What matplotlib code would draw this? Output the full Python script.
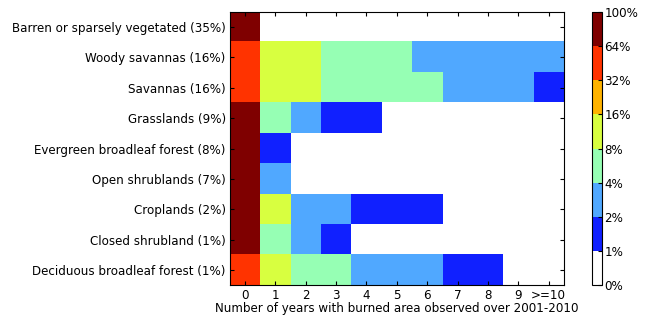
import numpy as np
import matplotlib
matplotlib.use("Agg")
import matplotlib.pyplot as plt
from matplotlib.colors import ListedColormap, BoundaryNorm

land_types = [
    "Barren or sparsely vegetated (35%)",
    "Woody savannas (16%)",
    "Savannas (16%)",
    "Grasslands (9%)",
    "Evergreen broadleaf forest (8%)",
    "Open shrublands (7%)",
    "Croplands (2%)",
    "Closed shrubland (1%)",
    "Deciduous broadleaf forest (1%)",
]
year_labels = ["0", "1", "2", "3", "4", "5", "6", "7", "8", "9", ">=10"]

# percent of area per number of burned years
barren = [99.0, 0.4, 0.2, 0.1, 0.1, 0.05, 0.05, 0.03, 0.02, 0.02, 0.03]
woody_savannas = [42.0, 12.0, 9.5, 7.0, 5.5, 4.5, 3.8, 3.5, 3.2, 3.0, 3.5]
savannas = [40.0, 13.0, 9.0, 7.5, 6.0, 4.8, 4.2, 3.6, 3.0, 2.4, 1.8]
grasslands = [80.0, 5.5, 2.8, 1.6, 1.1, 0.8, 0.6, 0.5, 0.4, 0.3, 0.3]
evergreen = [94.0, 1.5, 0.9, 0.6, 0.4, 0.3, 0.2, 0.2, 0.1, 0.1, 0.1]
open_shrub = [90.0, 3.0, 0.9, 0.5, 0.3, 0.2, 0.2, 0.1, 0.1, 0.1, 0.1]
croplands = [68.0, 10.0, 3.5, 2.5, 1.8, 1.4, 1.1, 0.9, 0.8, 0.6, 0.5]
closed_shrub = [82.0, 6.0, 2.2, 1.3, 0.9, 0.7, 0.5, 0.4, 0.3, 0.2, 0.2]
deciduous = [45.0, 10.0, 6.0, 4.5, 3.8, 3.0, 2.5, 1.8, 1.2, 0.8, 0.6]

data = np.array([barren, woody_savannas, savannas, grasslands, evergreen,
                 open_shrub, croplands, closed_shrub, deciduous])

bounds = [0, 1, 2, 4, 8, 16, 32, 64, 100]
bound_labels = ["0%", "1%", "2%", "4%", "8%", "16%", "32%", "64%", "100%"]
colors = ["#ffffff", "#1020ff", "#50a8ff", "#96ffb4", "#d8ff40",
          "#ffb300", "#ff3300", "#7f0000"]
cmap = ListedColormap(colors)
norm = BoundaryNorm(bounds, cmap.N)

fig = plt.figure(figsize=(6.51, 3.15), dpi=100)
ax = fig.add_axes([0.353, 0.095, 0.513, 0.867])
im = ax.imshow(data, cmap=cmap, norm=norm, aspect="auto", interpolation="nearest")

ax.set_xticks(np.arange(len(year_labels)))
ax.set_xticklabels(year_labels, fontsize=8.6)
ax.set_yticks(np.arange(len(land_types)))
ax.set_yticklabels(land_types, fontsize=8.6)
ax.tick_params(direction="in", top=True, right=True, length=3, pad=3)
ax.set_xlabel("Number of years with burned area observed over 2001-2010",
              fontsize=8.6, labelpad=0)

cax = fig.add_axes([0.909, 0.095, 0.0154, 0.867])
cb = fig.colorbar(im, cax=cax, boundaries=bounds, ticks=bounds, spacing="uniform")
cb.ax.set_yticklabels(bound_labels, fontsize=8.6)
cb.ax.tick_params(length=3, direction="in", pad=2)

fig.savefig("out.png", dpi=100)
